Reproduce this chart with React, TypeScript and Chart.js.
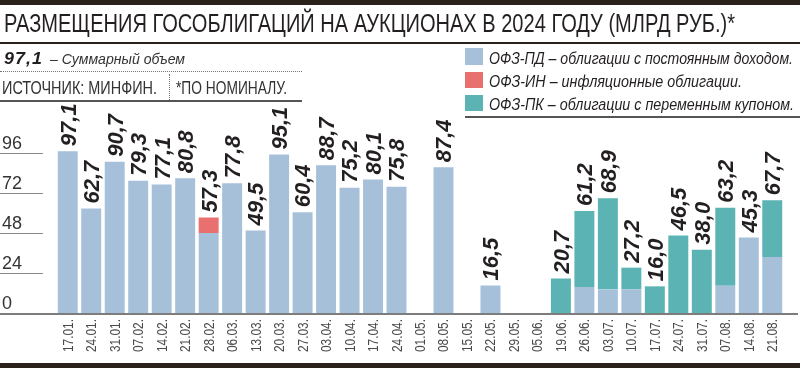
import React, { useEffect, useRef } from "react";
import { Chart, registerables } from "chart.js";

Chart.register(...registerables);

const dates = [
  "17.01.", "24.01.", "31.01.", "07.02.", "14.02.", "21.02.", "28.02.", "06.03.",
  "13.03.", "20.03.", "27.03.", "03.04.", "10.04.", "17.04.", "24.04.", "01.05.",
  "08.05.", "15.05.", "22.05.", "29.05.", "05.06.", "19.06.", "26.06.", "03.07.",
  "10.07.", "17.07.", "24.07.", "31.07.", "07.08.", "14.08.", "21.08.",
];

// ОФЗ-ПД
const pdValues: (number | null)[] = [
  97.1, 62.7, 90.7, 79.3, 77.1, 80.8, 48.0, 77.8,
  49.5, 95.1, 60.4, 88.7, 75.2, 80.1, 75.8, null,
  87.4, null, 16.5, null, null, null, 15.6, 14.2,
  14.2, null, null, null, 16.4, 45.3, 33.6,
];
// ОФЗ-ИН
const inValues: (number | null)[] = [
  null, null, null, null, null, null, 9.3, null,
  null, null, null, null, null, null, null, null,
  null, null, null, null, null, null, null, null,
  null, null, null, null, null, null, null,
];
// ОФЗ-ПК
const pkValues: (number | null)[] = [
  null, null, null, null, null, null, null, null,
  null, null, null, null, null, null, null, null,
  null, null, null, null, null, 20.7, 45.6, 54.7,
  13.0, 16.0, 46.5, 38.0, 46.8, null, 34.1,
];

const yTicks = [0, 24, 48, 72, 96];

const TITLE = "РАЗМЕЩЕНИЯ ГОСОБЛИГАЦИЙ НА АУКЦИОНАХ В 2024 ГОДУ (МЛРД РУБ.)*";
const LEGEND_PD = "ОФЗ-ПД – облигации с постоянным доходом.";
const LEGEND_IN = "ОФЗ-ИН – инфляционные облигации.";
const LEGEND_PK = "ОФЗ-ПК – облигации с переменным купоном.";

const C_PD = "#a6c0da";
const C_IN = "#e8706f";
const C_PK = "#5bb3b3";
const DARK = "#2a211c";
const TEXT = "#231f20";
const FAMILY = '"Liberation Sans", Arial, sans-serif';

let measureCtx: CanvasRenderingContext2D | null = null;
function measure(text: string, font: string): number {
  if (!measureCtx) measureCtx = document.createElement("canvas").getContext("2d");
  measureCtx!.font = font;
  return measureCtx!.measureText(text).width;
}

function FitText(props: {
  text: string; x: number; baseline: number; width: number; size: number;
  weight?: string; style?: string; color?: string; letterSpacing?: number;
}) {
  const { text, x, baseline, width, size } = props;
  const weight = props.weight || "normal";
  const style = props.style || "normal";
  const ls = props.letterSpacing || 0;
  const natural = measure(text, `${style} ${weight} ${size}px ${FAMILY}`) + ls * text.length;
  const sx = width / natural;
  const top = baseline - 0.8465 * size;
  return (
    <div
      style={{
        position: "absolute", left: x, top,
        fontFamily: FAMILY, fontSize: size, fontWeight: weight as any, fontStyle: style,
        lineHeight: 1, color: props.color || TEXT, whiteSpace: "nowrap",
        letterSpacing: ls, transform: `scaleX(${sx})`, transformOrigin: "0 0",
      }}
    >
      {text}
    </div>
  );
}

const overlayPlugin = {
  id: "overlay",
  afterDraw(chart: any) {
    const ctx: CanvasRenderingContext2D = chart.ctx;
    const xs = chart.scales.x;
    const ys = chart.scales.y;
    ctx.save();

    // y ticks + short gridlines
    ctx.font = `18px ${FAMILY}`;
    ctx.fillStyle = "#333";
    ctx.textAlign = "left";
    ctx.textBaseline = "alphabetic";
    yTicks.forEach((v) => {
      const y = Math.round(ys.getPixelForValue(v));
      if (v !== 0) {
        ctx.strokeStyle = "#8a8a8a";
        ctx.lineWidth = 1;
        ctx.beginPath();
        ctx.moveTo(0, y + 0.5);
        ctx.lineTo(43, y + 0.5);
        ctx.stroke();
      }
      ctx.fillText(String(v), 2, y - 4);
    });

    // axis line
    const y0 = ys.getPixelForValue(0);
    ctx.strokeStyle = "#7d7d7d";
    ctx.lineWidth = 2;
    ctx.beginPath();
    ctx.moveTo(0, y0 + 1);
    ctx.lineTo(798, y0 + 1);
    ctx.stroke();

    // x labels
    const xFont = `14px ${FAMILY}`;
    const xCap = 0.716 * 14;
    dates.forEach((d, i) => {
      const x = xs.getPixelForValue(i);
      ctx.save();
      ctx.translate(x, y0 + 6);
      ctx.rotate(-Math.PI / 2);
      ctx.scale(0.85, 1);
      ctx.font = xFont;
      ctx.fillStyle = "#4a4a4a";
      ctx.textAlign = "right";
      ctx.fillText(d, 0, xCap / 2);
      ctx.restore();
    });

    // value labels
    const vFont = `italic bold 22px ${FAMILY}`;
    const vCap = 0.716 * 22;
    dates.forEach((_, i) => {
      const parts = [pdValues[i], inValues[i], pkValues[i]].filter((v) => v != null) as number[];
      if (!parts.length) return;
      const total = parts.reduce((a, b) => a + b, 0);
      const label = total.toFixed(1).replace(".", ",");
      const x = xs.getPixelForValue(i);
      const yTop = ys.getPixelForValue(total);
      ctx.save();
      ctx.translate(x, yTop - 5);
      ctx.rotate(-Math.PI / 2);
      ctx.font = vFont;
      ctx.fillStyle = TEXT;
      ctx.textAlign = "left";
      ctx.fillText(label, 0, vCap / 2);
      ctx.restore();
    });

    ctx.restore();
  },
};

export default function App() {
  const canvasRef = useRef<HTMLCanvasElement>(null);

  useEffect(() => {
    if (!canvasRef.current) return;
    const chart = new Chart(canvasRef.current, {
      type: "bar",
      data: {
        labels: dates,
        datasets: [
          { label: "ОФЗ-ПД", data: pdValues, backgroundColor: C_PD, borderWidth: 0 },
          { label: "ОФЗ-ИН", data: inValues, backgroundColor: C_IN, borderWidth: 0 },
          { label: "ОФЗ-ПК", data: pkValues, backgroundColor: C_PK, borderWidth: 0 },
        ],
      },
      options: {
        responsive: false,
        animation: false,
        devicePixelRatio: 1,
        layout: { padding: { left: 56, right: 16, top: 113, bottom: 55 } },
        datasets: { bar: { barPercentage: 0.85, categoryPercentage: 1 } },
        plugins: { legend: { display: false }, tooltip: { enabled: false } },
        scales: {
          x: { display: false, stacked: true, offset: true, grid: { display: false } },
          y: { display: false, stacked: true, min: 0, max: 120 },
        },
      } as any,
      plugins: [overlayPlugin],
    });
    return () => chart.destroy();
  }, []);

  return (
    <div
      style={{
        position: "fixed", left: 0, top: 0, width: 800, height: 368,
        background: "#fff", overflow: "hidden",
      }}
    >
      <canvas ref={canvasRef} width={800} height={368} style={{ position: "absolute", left: 0, top: 0 }} />

      {/* top and bottom bars */}
      <div style={{ position: "absolute", left: 0, top: 0, width: 800, height: 5, background: DARK }} />
      <div style={{ position: "absolute", left: 0, top: 363, width: 800, height: 5, background: DARK }} />

      {/* title */}
      <FitText text={TITLE} x={4} baseline={32} width={731} size={26} />
      <div style={{ position: "absolute", left: 0, top: 42, width: 800, height: 2, background: DARK }} />

      {/* subtitle */}
      <FitText text="97,1" x={4} baseline={64} width={39} size={17} weight="bold" style="italic" letterSpacing={1} />
      <FitText text="– Суммарный объем" x={50} baseline={64} width={135} size={14} style="italic" color="#333" />
      <div style={{ position: "absolute", left: 0, top: 71, width: 302, height: 0, borderTop: "1px dotted #777" }} />
      <FitText text="ИСТОЧНИК: МИНФИН." x={2} baseline={94} width={155} size={18} color="#333" />
      <div style={{ position: "absolute", left: 169, top: 74, width: 0, height: 26, borderLeft: "1px dotted #777" }} />
      <FitText text="*ПО НОМИНАЛУ." x={176} baseline={94} width={111} size={18} color="#333" />
      <div style={{ position: "absolute", left: 0, top: 100, width: 302, height: 2, background: "#555" }} />

      {/* legend */}
      <div style={{ position: "absolute", left: 465, top: 48, width: 18, height: 17, background: C_PD }} />
      <div style={{ position: "absolute", left: 465, top: 72, width: 18, height: 16, background: C_IN }} />
      <div style={{ position: "absolute", left: 465, top: 95, width: 18, height: 16, background: C_PK }} />
      <FitText text={LEGEND_PD} x={489} baseline={65} width={304} size={16} style="italic" />
      <FitText text={LEGEND_IN} x={489} baseline={88} width={253} size={16} style="italic" />
      <FitText text={LEGEND_PK} x={489} baseline={111} width={305} size={16} style="italic" />
      <div style={{ position: "absolute", left: 465, top: 116, width: 335, height: 2, background: "#555" }} />
    </div>
  );
}
